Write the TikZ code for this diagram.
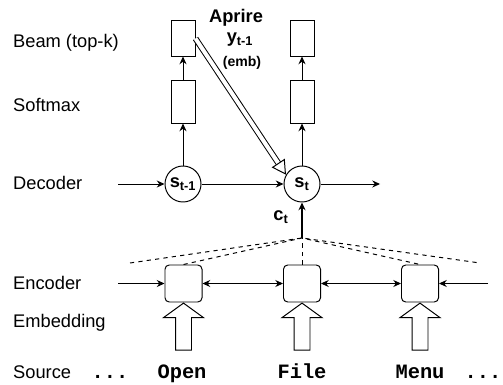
\documentclass[tikz,border=0pt]{standalone}
\usepackage{fontspec}
\setmainfont{Liberation Sans}
\newfontfamily\srcfont{Liberation Mono}
\usetikzlibrary{arrows.meta,shapes.arrows}

\begin{document}
\begin{tikzpicture}[x=0.025cm,y=-0.025cm,>={Stealth[length=5.5pt,width=5pt]},line width=0.7pt,
  lbl/.style={anchor=west,font=\fontsize{13}{15}\selectfont},
  box/.style={draw,minimum width=0.6cm,inner sep=0pt},
  state/.style={draw,circle,minimum size=0.9cm,inner sep=0pt,font=\fontsize{13}{15}\selectfont\bfseries},
  enc/.style={draw,rounded corners=3pt,minimum size=0.925cm,inner sep=0pt},
  fat/.style={draw,single arrow,rotate=90,minimum height=1.175cm,inner xsep=0pt,inner ysep=0.1875cm,
    single arrow head extend=0.3cm,single arrow tip angle=108,anchor=tip},
  word/.style={anchor=base,font=\fontsize{14.5}{16}\srcfont\bfseries}]
   \useasboundingbox (0,0) rectangle (503,385);

   % 層の名前
   \node[lbl] at (8,43) {Beam (top-k)};
   \node[lbl] at (8,105) {Softmax};
   \node[lbl] at (8,183) {Decoder};
   \node[lbl] at (8,283) {Encoder};
   \node[lbl] at (8,323) {Embedding};
   \node[lbl,anchor=base west] at (8,378) {Source};

   % デコーダ
   \node[box,minimum height=0.875cm] (beamL) at (183,38.5) {};
   \node[box,minimum height=1.05cm] (softL) at (183,102) {};
   \node[state] (sprev) at (183,184) {s\textsubscript{t-1}};
   \node[box,minimum height=0.875cm] (beamR) at (302,38.5) {};
   \node[box,minimum height=1.05cm] (softR) at (302,102) {};
   \node[state] (st) at (302,184) {s\textsubscript{t}};
   \coordinate (dinL) at (118,184);
   \coordinate (doutR) at (380,184);

   \draw[->] (softL) -- (beamL);
   \draw[->] (sprev) -- (softL);
   \draw[->] (softR) -- (beamR);
   \draw[->] (st) -- (softR);
   \draw[->] (dinL) -- (sprev);
   \draw[->] (sprev) -- (st);
   \draw[->] (st) -- (doutR);

   % 前の出力
   \node[font=\fontsize{13}{15}\selectfont\bfseries] (apr) at (236,18) {Aprire};
   \node[font=\fontsize{13}{15}\selectfont\bfseries] (yprev) at (240,40) {y\textsubscript{t-1}};
   \node[font=\fontsize{10}{12}\selectfont\bfseries] (emb) at (242,63) {(emb)};
   \draw[double,double distance=0.1cm,-{Triangle[open,length=10pt,width=11pt,line width=0.7pt]}]
     (beamL.east) -- (st.150);

   % エンコーダ
   \node[enc] (encL) at (183.5,283.5) {};
   \node[enc] (encM) at (302,283.5) {};
   \node[enc] (encR) at (420,283.5) {};
   \coordinate (einL) at (118,283.5);
   \coordinate (einR) at (488,283.5);
   \draw[->] (einL) -- (encL);
   \draw[<->] (encL) -- (encM);
   \draw[<->] (encM) -- (encR);
   \draw[->] (einR) -- (encR);

   % 文脈ベクトル
   \coordinate (ctx) at (302,238);
   \coordinate (farL) at (130,263);
   \coordinate (farR) at (480,263);
   \draw[dashed] (farL) -- (ctx) -- (farR);
   \draw[dashed] (encL.north) -- (ctx) -- (encR.north);
   \draw[dashed] (encM.north) -- (ctx);
   \draw[->,line width=1.6pt] (ctx) -- (st);
   \node[font=\fontsize{13}{15}\selectfont\bfseries] (ct) at (281,217) {c\textsubscript{t}};

   % 埋め込み
   \node[fat] (embL) at (encL.south) {};
   \node[fat] (embM) at (encM.south) {};
   \node[fat] (embR) at (encR.south) {};

   % 入力
   \node[word] (dotsL) at (110,378) {...};
   \node[word] (wOpen) at (182,378) {Open};
   \node[word] (wFile) at (302,378) {File};
   \node[word] (wMenu) at (420,378) {Menu};
   \node[word] (dotsR) at (483,378) {...};

\end{tikzpicture}
\end{document}
